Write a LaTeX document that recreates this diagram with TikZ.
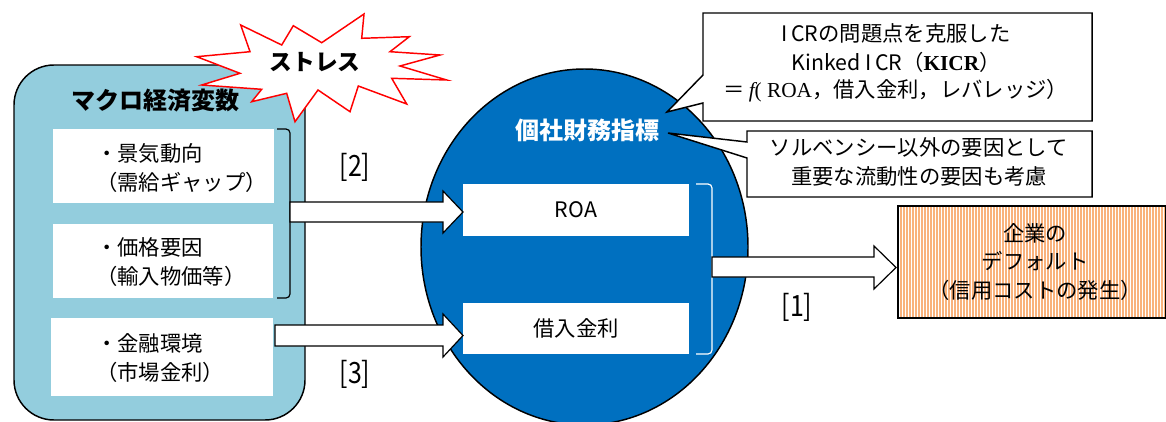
\documentclass[tikz,border=0pt]{standalone}
\usepackage{fontspec}
\newfontfamily\jp{Noto Sans CJK JP}
\newfontfamily\ser{Liberation Serif}
\definecolor{macro}{HTML}{93CDDD}
\definecolor{firm}{HTML}{0070C0}
\definecolor{orng}{HTML}{F9B27C}
\definecolor{redline}{HTML}{FF0000}
\tikzset{
  wbox/.style={draw=none, fill=white, inner sep=0pt},
  txt/.style={font=\jp\fontsize{16}{21.5}\selectfont, inner sep=0pt},
  ttl/.style={font=\jp\bfseries\fontsize{18}{22}\selectfont, inner sep=0pt},
  blockarrow/.style={draw=black, fill=white, line width=0.9pt, line join=miter},
  callout/.style={draw=black, fill=white, line width=1.1pt},
  lbl/.style={font=\jp\fontsize{22}{24}\selectfont, inner sep=0pt, xscale=0.85}
}
\begin{document}
\begin{tikzpicture}[x=0.75pt,y=-0.75pt]
\useasboundingbox (0,0) rectangle (1166,421);
\clip (0,0) rectangle (1166,421);

% left macro box
\node[draw=black, line width=1.1pt, fill=macro, rounded corners=30pt,
      minimum width=218.25pt, minimum height=266.25pt, inner sep=0pt] (macro) at (159.5,242.5) {};
\node[ttl] (macrot) at (155,100) {マクロ経済変数};

\node[wbox, minimum width=165.75pt, minimum height=55.5pt] (b1) at (163.5,166) {};
\node[wbox, minimum width=165pt, minimum height=55.5pt] (b2) at (163,261) {};
\node[wbox, minimum width=166.5pt, minimum height=58.5pt] (b3) at (162,357) {};
\node[txt, anchor=west, align=left] (b1t) at (96,168) {・景気動向\\（需給ギャップ）};
\node[txt, anchor=west, align=left] (b2t) at (96,262) {・価格要因\\（輸入物価等）};
\node[txt, anchor=west, align=left] (b3t) at (96,358) {・金融環境\\（市場金利）};

% black bracket
\draw[line width=0.9pt, rounded corners=3pt] (277,129) -- (290,129) -- (290,298) -- (277,298);

% firm ellipse
\draw[line width=1.1pt, fill=firm] (584.5,247) ellipse [x radius=163.5, y radius=178];
\node[ttl, text=white] (firmt) at (587,130) {個社財務指標};
\node[wbox, minimum width=169.5pt, minimum height=39pt] (roa) at (576,210) {};
\node[txt] at (roa) {ROA};
\node[wbox, minimum width=169.5pt, minimum height=38.25pt] (rate) at (576,328.5) {};
\node[txt] at (rate) {借入金利};
\draw[white, line width=0.9pt, rounded corners=3pt] (696,184) -- (712,184) -- (712,354) -- (696,354);

% block arrows
\draw[blockarrow] (290,202) -- (443,202) -- (443,191) -- (463,212) -- (443,233) -- (443,222) -- (290,222) -- cycle;
\draw[blockarrow] (275,325) -- (443,325) -- (443,314) -- (463,335.5) -- (443,357) -- (443,346) -- (275,346) -- cycle;
\draw[blockarrow] (712,257) -- (874,257) -- (874,246) -- (896,267.5) -- (874,289) -- (874,277) -- (712,277) -- cycle;
\node[lbl] (l2) at (355,167) {[2]};
\node[lbl] (l3) at (355,374) {[3]};
\node[lbl] (l1) at (797,307) {[1]};

% stress star
\draw[draw=redline, fill=white, line width=1.1pt, line join=miter]
 (240.7,25) -- (281.7,45) -- (293.3,25.7) -- (321.7,42.7) -- (364,14) -- (361.7,38.3)
 -- (409.3,36.7) -- (390,51.7) -- (440,55) -- (400,66) -- (446.7,80) -- (391.7,78.3)
 -- (406.7,104) -- (358.3,86) -- (350,111.7) -- (318,90) -- (295,121.7) -- (286.7,93.3)
 -- (251.7,101.7) -- (261.7,89.3) -- (201.7,85) -- (240,73.3) -- (196.7,56.7) -- (250,51.7) -- cycle;
\node[font=\jp\bfseries\fontsize{17}{20}\selectfont, inner sep=0pt] (stress) at (315,62) {ストレス};

% callouts
\draw[callout] (703,13) -- (1092,13) -- (1092,121) -- (703,121) -- (703,103) -- (667,112) -- (703,75) -- cycle;
\node[txt, align=center] (c1a) at (896,33) {I\,CRの問題点を克服した};
\node[txt, align=center] (c1b) at (896,62) {Kinked\ I\,CR（{\ser\bfseries KICR}）};
\node[txt, align=center] (c1c) at (896,91) {＝\,{\ser\itshape f}{\ser(\ ROA}，借入金利，レバレッジ）};
\draw[callout] (747,131) -- (1092,131) -- (1092,197) -- (747,197) -- (747,158) -- (668,133) -- (747,142) -- cycle;
\node[txt, align=center] (c2) at (919,162) {ソルベンシー以外の要因として\\重要な流動性の要因も考慮};

% default box
\fill[orng] (898,206) rectangle (1166,318);
\foreach \i in {0,...,88} {
  \draw[white, line width=0.55pt] (899.5+\i*3,206) -- (899.5+\i*3,318);
}
\node[draw=black, line width=1.4pt, minimum width=201pt, minimum height=84pt, inner sep=0pt] (dflt) at (1032,262) {};
\node[txt, align=center] (dfltt) at (1035,262) {企業の\\デフォルト\\（信用コストの発生）};
\end{tikzpicture}
\end{document}
